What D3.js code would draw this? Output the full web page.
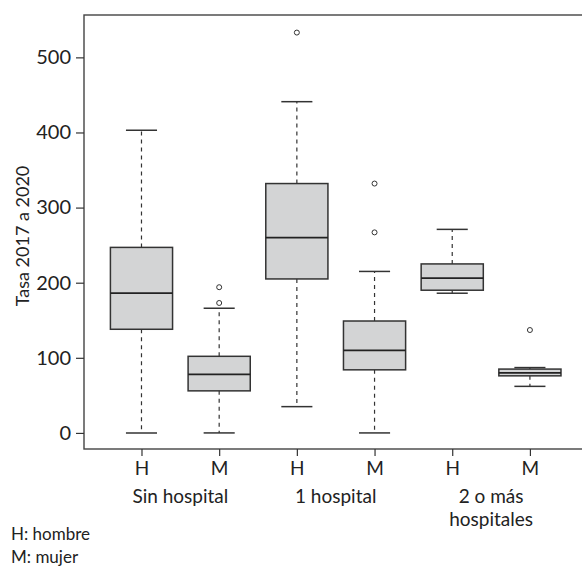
<!DOCTYPE html>
<html>
<head>
<meta charset="utf-8">
<script src="https://cdn.jsdelivr.net/npm/d3@7"></script>
<style>
  body { margin: 0; background: #fff; }
  text { font-family: Lato, "Open Sans", sans-serif; fill: #222; }
</style>
</head>
<body>
<div id="chart"></div>
<script>
// Box plot: tasa 2017 a 2020 by hospital group and sex

const groups = ['Sin hospital', '1 hospital', '2 o más hospitales']
const sexes = ['H', 'M', 'H', 'M', 'H', 'M']
const lowWhisker = [0, 0, 35, 0, 186, 62]
const q1 = [138, 56, 205, 84, 190, 76]
const median = [186, 78, 260, 110, 206, 80]
const q3 = [247, 102, 332, 149, 225, 85]
const highWhisker = [403, 166, 441, 215, 271, 87]
const outliers = [[], [173, 194], [533], [267, 332], [], [137]]
const yTicks = [0, 100, 200, 300, 400, 500]

const width = 582
const height = 566

const svg = d3.select('#chart')
  .append('svg')
  .attr('width', width)
  .attr('height', height)

// scales (R style: 4% padding on both ends)
const xScale = d3.scaleLinear()
  .domain([0.26, 6.74])
  .range([84, 587.4])

const yScale = d3.scaleLinear()
  .domain([-21.4, 556.4])
  .range([449, 15])

const unit = xScale(2) - xScale(1)
const boxW = unit * 0.8
const capW = unit * 0.4

const stroke = '#333'

// frame
svg.append('rect')
  .attr('x', xScale.range()[0])
  .attr('y', yScale.range()[1])
  .attr('width', xScale.range()[1] - xScale.range()[0])
  .attr('height', yScale.range()[0] - yScale.range()[1])
  .attr('fill', 'none')
  .attr('stroke', '#444')
  .attr('stroke-width', 1.4)

// y axis
const yAxis = d3.axisLeft(yScale)
  .tickValues(yTicks)
  .tickSize(8)
  .tickPadding(5)

const gy = svg.append('g')
  .attr('transform', `translate(${xScale.range()[0]}, 0)`)
  .call(yAxis)
gy.select('.domain').remove()
gy.selectAll('line').attr('stroke', stroke).attr('stroke-width', 1.2)
gy.selectAll('text').style('font-size', '20px').attr('fill', '#222')

// x axis
const xAxis = d3.axisBottom(xScale)
  .tickValues(d3.range(1, 7))
  .tickFormat((d) => sexes[d - 1])
  .tickSize(7)
  .tickPadding(6)

const gx = svg.append('g')
  .attr('transform', `translate(0, ${yScale.range()[0]})`)
  .call(xAxis)
gx.select('.domain').remove()
gx.selectAll('line').attr('stroke', stroke).attr('stroke-width', 1.2)
gx.selectAll('text').style('font-size', '19px').attr('fill', '#222')

// group labels (last one wraps onto two lines)
groups.forEach((g, i) => {
  const cx = (xScale(i * 2 + 1) + xScale(i * 2 + 2)) / 2
  const lines = g === '2 o más hospitales' ? ['2 o más', 'hospitales'] : [g]
  lines.forEach((ln, j) => {
    svg.append('text')
      .attr('x', cx)
      .attr('y', 503 + j * 23)
      .attr('text-anchor', 'middle')
      .style('font-size', '19px')
      .text(ln)
  })
})

// y title
svg.append('text')
  .attr('transform', `translate(29, ${(yScale.range()[0] + yScale.range()[1]) / 2 + 4}) rotate(-90)`)
  .attr('text-anchor', 'middle')
  .style('font-size', '18px')
  .text('Tasa 2017 a 2020')

// boxes
const boxes = sexes.map((s, i) => ({
  pos: i + 1,
  lo: lowWhisker[i],
  q1: q1[i],
  med: median[i],
  q3: q3[i],
  hi: highWhisker[i],
  out: outliers[i]
}))

const bg = svg.selectAll('.box')
  .data(boxes)
  .enter()
  .append('g')
  .attr('class', 'box')

// whiskers (dashed)
bg.append('line')
  .attr('x1', (d) => xScale(d.pos))
  .attr('x2', (d) => xScale(d.pos))
  .attr('y1', (d) => yScale(d.q3))
  .attr('y2', (d) => yScale(d.hi))
  .attr('stroke', stroke)
  .attr('stroke-width', 1.2)
  .attr('stroke-dasharray', '4,4')

bg.append('line')
  .attr('x1', (d) => xScale(d.pos))
  .attr('x2', (d) => xScale(d.pos))
  .attr('y1', (d) => yScale(d.q1))
  .attr('y2', (d) => yScale(d.lo))
  .attr('stroke', stroke)
  .attr('stroke-width', 1.2)
  .attr('stroke-dasharray', '4,4')

// caps
bg.selectAll('.cap')
  .data((d) => [{ pos: d.pos, v: d.lo }, { pos: d.pos, v: d.hi }])
  .enter()
  .append('line')
  .attr('class', 'cap')
  .attr('x1', (d) => xScale(d.pos) - capW / 2)
  .attr('x2', (d) => xScale(d.pos) + capW / 2)
  .attr('y1', (d) => yScale(d.v))
  .attr('y2', (d) => yScale(d.v))
  .attr('stroke', stroke)
  .attr('stroke-width', 1.5)

// box rect
bg.append('rect')
  .attr('x', (d) => xScale(d.pos) - boxW / 2)
  .attr('y', (d) => yScale(d.q3))
  .attr('width', boxW)
  .attr('height', (d) => yScale(d.q1) - yScale(d.q3))
  .attr('fill', '#d3d4d5')
  .attr('stroke', stroke)
  .attr('stroke-width', 1.5)

// median
bg.append('line')
  .attr('x1', (d) => xScale(d.pos) - boxW / 2)
  .attr('x2', (d) => xScale(d.pos) + boxW / 2)
  .attr('y1', (d) => yScale(d.med))
  .attr('y2', (d) => yScale(d.med))
  .attr('stroke', '#222')
  .attr('stroke-width', 1.8)

// outliers
bg.selectAll('circle')
  .data((d) => d.out.map((v) => ({ pos: d.pos, v: v })))
  .enter()
  .append('circle')
  .attr('cx', (d) => xScale(d.pos))
  .attr('cy', (d) => yScale(d.v))
  .attr('r', 2.5)
  .attr('fill', 'none')
  .attr('stroke', stroke)
  .attr('stroke-width', 1)

// footnote
svg.append('text')
  .attr('x', 11)
  .attr('y', 540)
  .style('font-size', '17px')
  .text('H: hombre')

svg.append('text')
  .attr('x', 11)
  .attr('y', 563)
  .style('font-size', '17px')
  .text('M: mujer')
</script>
</body>
</html>
